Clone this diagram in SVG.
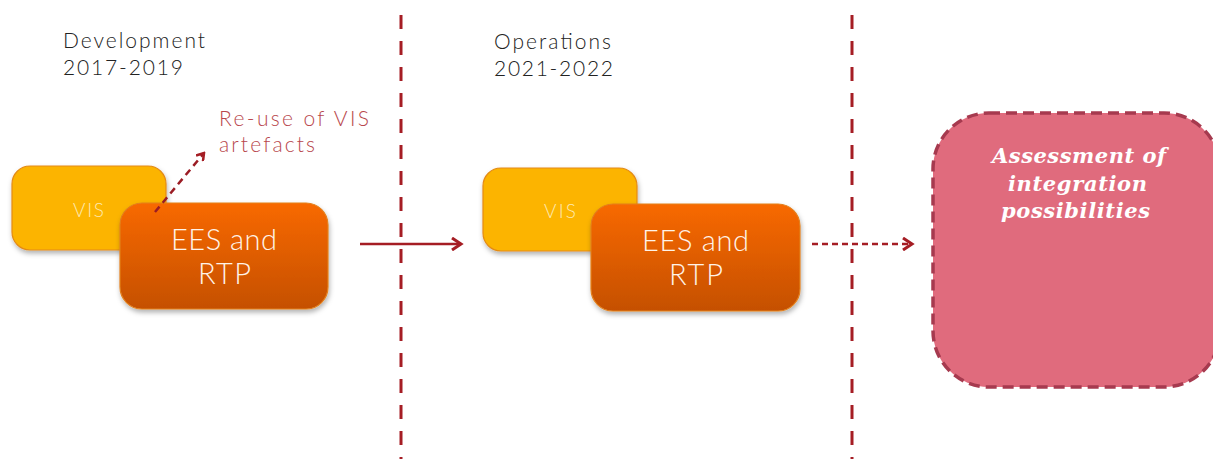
<svg xmlns="http://www.w3.org/2000/svg" width="1213" height="459" viewBox="0 0 1213 459">
<defs>
<linearGradient id="gEES" x1="0" y1="0" x2="0" y2="1">
<stop offset="0" stop-color="#f86900"/>
<stop offset="1" stop-color="#c55000"/>
</linearGradient>
<filter id="sh" x="-10%" y="-10%" width="130%" height="140%">
<feDropShadow dx="1" dy="3" stdDeviation="2.5" flood-color="#000" flood-opacity="0.3"/>
</filter>
<marker id="arr" markerWidth="10" markerHeight="10" refX="8" refY="5" orient="auto" markerUnits="userSpaceOnUse" viewBox="0 0 10 10">
<path d="M1,0.5 L8,5 L1,9.5" fill="none" stroke="#a51d24" stroke-width="2.5"/>
</marker>
<marker id="arr2" markerWidth="14" markerHeight="14" refX="11" refY="7" orient="auto" markerUnits="userSpaceOnUse" viewBox="0 0 14 14">
<path d="M2,1 L11,7 L2,13" fill="none" stroke="#a51d24" stroke-width="3"/>
</marker>
</defs>
<style>
.lbl{font-family:Lato,"Open Sans","Liberation Sans",sans-serif;font-weight:300;font-size:21px;fill:#222}
.red{fill:#b8474d}
.vis{fill:#fcb400;stroke:#e38a14;stroke-width:1.2}
.vist{font-family:Lato,"Open Sans","Liberation Sans",sans-serif;font-weight:300;font-size:19px;fill:#fde9b0}
.ees{fill:url(#gEES);stroke:#e3801c;stroke-width:1.2}
.eest{font-family:Lato,"Open Sans","Liberation Sans",sans-serif;font-weight:300;font-size:29px;fill:#fff3e8}
.div{stroke:#a51d24;stroke-width:3;stroke-dasharray:14 12;fill:none}
.ass{font-family:"DejaVu Serif","Liberation Serif",serif;font-weight:bold;font-style:italic;font-size:21px;fill:#fff}
</style>
<g id="dividers">
<line class="div" x1="401" y1="15" x2="401" y2="459"/>
<line class="div" x1="852" y1="15" x2="852" y2="459"/>
</g>
<g id="label-dev">
<text class="lbl" x="63" y="48" textLength="142" lengthAdjust="spacing">Development</text>
<text class="lbl" x="63" y="75" textLength="120" lengthAdjust="spacing">2017-2019</text>
</g>
<g id="label-ops">
<text class="lbl" x="494" y="49" textLength="117" lengthAdjust="spacing">Operations</text>
<text class="lbl" x="494" y="76" textLength="119" lengthAdjust="spacing">2021-2022</text>
</g>
<g id="label-reuse">
<text class="lbl red" x="219" y="126" textLength="150" lengthAdjust="spacing">Re-use of VIS</text>
<text class="lbl red" x="219" y="152" textLength="96" lengthAdjust="spacing">artefacts</text>
</g>
<g id="vis1">
<rect class="vis" x="12" y="166" width="154" height="84" rx="18" filter="url(#sh)"/>
<text class="vist" x="73" y="217" textLength="31" lengthAdjust="spacing">VIS</text>
</g>
<g id="ees1">
<rect class="ees" x="120" y="203" width="208" height="106" rx="22" filter="url(#sh)"/>
<text class="eest" x="171" y="250" textLength="106" lengthAdjust="spacing">EES and</text>
<text class="eest" x="198" y="284" textLength="53" lengthAdjust="spacing">RTP</text>
</g>
<g id="vis2">
<rect class="vis" x="483" y="168" width="154" height="83" rx="18" filter="url(#sh)"/>
<text class="vist" x="544" y="218" textLength="32" lengthAdjust="spacing">VIS</text>
</g>
<g id="ees2">
<rect class="ees" x="591" y="204" width="209" height="107" rx="22" filter="url(#sh)"/>
<text class="eest" x="642" y="251" textLength="107" lengthAdjust="spacing">EES and</text>
<text class="eest" x="669" y="285" textLength="54" lengthAdjust="spacing">RTP</text>
</g>
<g id="assessment">
<rect x="933" y="113" width="287" height="274" rx="56" fill="#e06b7d" stroke="#a63a4f" stroke-width="3.5" stroke-dasharray="11 6"/>
<text class="ass" x="992" y="163" textLength="174" lengthAdjust="spacing">Assessment of</text>
<text class="ass" x="1008" y="191" textLength="139" lengthAdjust="spacing">integration</text>
<text class="ass" x="1001" y="218" textLength="149" lengthAdjust="spacing">possibilities</text>
</g>
<g id="connectors">
<line x1="155" y1="212" x2="204" y2="153" stroke="#9b1c24" stroke-width="2.5" stroke-dasharray="7 5" marker-end="url(#arr)"/>
<line x1="360" y1="244" x2="461" y2="244" stroke="#a51d24" stroke-width="2.5" marker-end="url(#arr2)"/>
<line x1="812" y1="244" x2="912" y2="244" stroke="#a51d24" stroke-width="2.5" stroke-dasharray="6 4" marker-end="url(#arr2)"/>
</g>
</svg>
